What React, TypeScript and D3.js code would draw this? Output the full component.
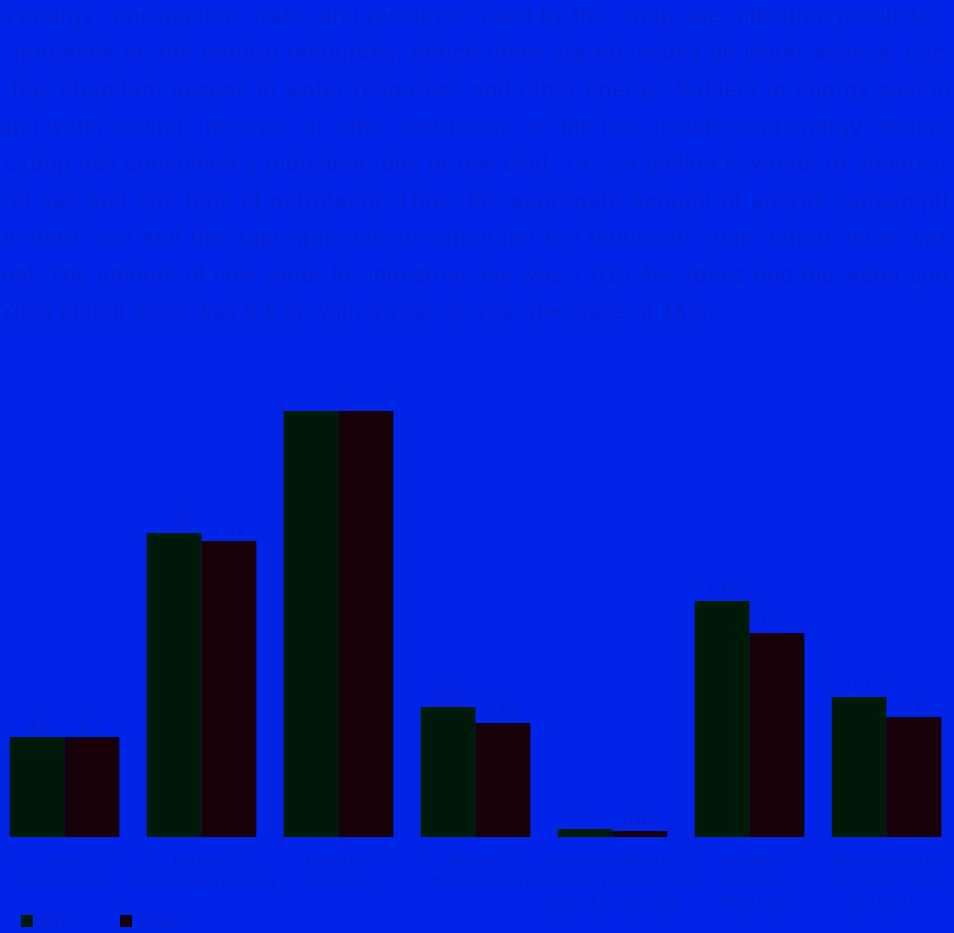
import React, { useEffect } from "react";
import * as d3 from "d3";

const categories = [
  ["Raw coal", "(ten thousand tones)"],
  ["Electricity", "(hundred million KW/hour)"],
  ["Natural gas", "(ten million m³)"],
  ["Petroleum", "(thousand tones)"],
  ["Energy consumption per", "ten thousand Yuan output value", "(tones of standard coal)"],
  ["New water for", "industrial use", "(million tons)"],
  ["Water consumed per", "ten thousand Yuan", "output value (m³)"],
];
const values2015 = [0.5, 1.52, 2.13, 0.65, 0.04, 1.18, 0.7];
const values2016 = [0.5, 1.48, 2.13, 0.57, 0.03, 1.02, 0.6];
const seriesNames = ["2015", "2016"];
const yTicks = [0.5, 1, 1.5, 2];

const paragraphLines = [
  "s energy consumption, water and resources used by the Group are industrial products",
  "influence on the natural resources, hence there are no issues on water access. Loc",
  "has abundant access to water resources and other energy. Subject to energy saving",
  "and water saving, there are no other restrictions on the use of water and energy resourc",
  "Group has consumed 5 thousand tons of raw coal, 147.54 million KW/hour of electricit",
  "ral gas and 566 tons of petroleum. Thus, the aggregate amount of energy consumpti",
  "andard coal and the aggregate consumption per ten thousand Yuan output value was",
  "oal. The amount of new water for industrial use was 1,015,467 tones and the water con",
  "Yuan output value was 0.5 m³ with a year-on-year decrease of 18%.",
];
// layout of paragraph lines: [startX, endX]
const paragraphSpan = [
  [1, 930],
  [15, 945],
  [13, 950],
  [0, 950],
  [4, 948],
  [3, 948],
  [3, 950],
  [2, 948],
  [0, 714],
];

const BG = "#0025e9";
const TXT = "#0720d2";
const C2015 = "#001a08";
const C2016 = "#170008";

export default function App() {
  useEffect(() => {
    document.body.style.margin = "0";
    document.body.style.background = BG;
  }, []);

  const W = 954;
  const H = 933;
  const x = d3
    .scaleBand<number>()
    .domain(d3.range(categories.length))
    .range([-4, 955])
    .paddingInner(0.2)
    .paddingOuter(0.1);
  const x1 = d3.scaleBand<number>().domain([0, 1]).range([0, x.bandwidth()]);
  const y = d3.scaleLinear().domain([0, 2.5]).range([837, 337]);
  const series = [values2015, values2016];
  const colors = [C2015, C2016];

  return (
    <div style={{ position: "absolute", left: 0, top: 0, width: W, height: H, background: BG }}>
      <svg width={W} height={H} style={{ display: "block" }}>
        <rect x={0} y={0} width={W} height={H} fill={BG} />
        <g fontFamily="'Liberation Sans', Arial, sans-serif" fontSize={22} fill={TXT}>
          {paragraphLines.map((t, i) => (
            <text
              key={i}
              x={paragraphSpan[i][0]}
              y={23 + i * 37}
              textLength={paragraphSpan[i][1] - paragraphSpan[i][0]}
              lengthAdjust="spacing"
            >
              {t}
            </text>
          ))}
        </g>
        <g>
          {yTicks.map((t) => (
            <line key={t} x1={932} x2={954} y1={y(t)} y2={y(t)} stroke={TXT} strokeWidth={1} opacity={0.5} />
          ))}
        </g>
        <g>
          {series.map((vals, s) =>
            vals.map((v, i) => (
              <rect
                key={`${s}-${i}`}
                x={(x(i) as number) + (x1(s) as number)}
                y={y(v)}
                width={x1.bandwidth()}
                height={y(0) - y(v)}
                fill={colors[s]}
              />
            ))
          )}
        </g>
        <g fontFamily="Roboto, sans-serif" fontSize={17} fill={TXT} textAnchor="middle">
          {series.map((vals, s) =>
            vals.map((v, i) => (
              <text
                key={`${s}-${i}`}
                x={(x(i) as number) + (x1(s) as number) + x1.bandwidth() / 2}
                y={y(v) - 5}
              >
                {String(v)}
              </text>
            ))
          )}
        </g>
        <g fontFamily="Roboto, sans-serif" fontSize={12.5} fill={TXT} textAnchor="middle">
          {categories.map((lines, i) => (
            <text key={i} x={(x(i) as number) + x.bandwidth() / 2} y={865}>
              {lines.map((l, j) => (
                <tspan key={j} x={(x(i) as number) + x.bandwidth() / 2} dy={j === 0 ? 0 : 20.5}>
                  {l}
                </tspan>
              ))}
            </text>
          ))}
        </g>
        <g fontFamily="Roboto, sans-serif" fontSize={17} fill={TXT}>
          {seriesNames.map((n, i) => (
            <g key={n} transform={`translate(${21 + i * 99},915)`}>
              <rect x={0} y={0} width={12} height={12} fill={colors[i]} />
              <text x={18} y={12.5}>{n}</text>
            </g>
          ))}
        </g>
      </svg>
    </div>
  );
}
